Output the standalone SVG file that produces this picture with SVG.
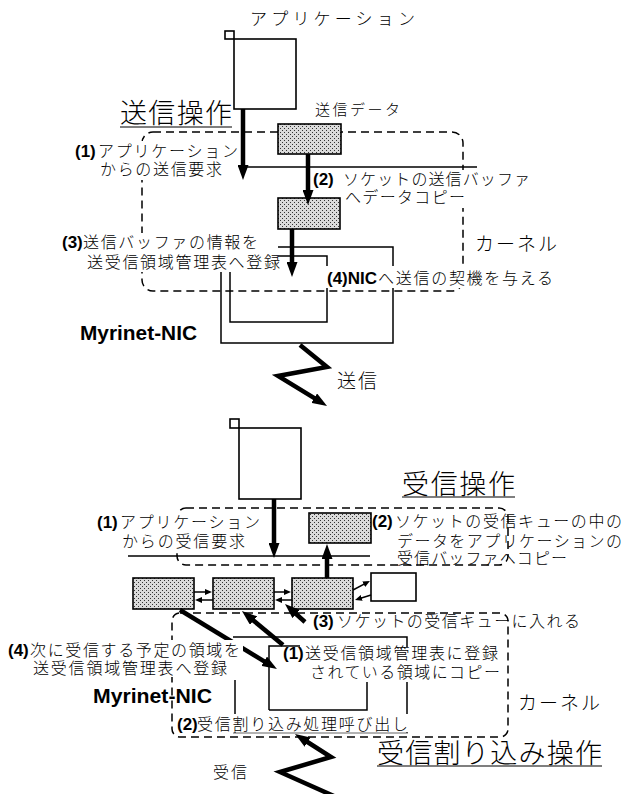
<svg xmlns="http://www.w3.org/2000/svg" width="627" height="794" viewBox="0 0 627 794">
<style>
.jp{font-family:"Noto Sans CJK JP","Noto Sans CJK SC",sans-serif;font-weight:300;fill:#000}
.b{font-family:"Liberation Sans",Arial,sans-serif;font-weight:bold;fill:#000}
.box{fill:#fff;stroke:#000;stroke-width:1.6}
.dot{fill:url(#stip);stroke:#000;stroke-width:1.6}
.dash{fill:none;stroke:#000;stroke-width:1.5;stroke-dasharray:8,5}
.ln{fill:none;stroke:#000;stroke-width:1.5}
.thick{fill:none;stroke:#000;stroke-width:4.5;stroke-linejoin:miter}
.sm{fill:none;stroke:#000;stroke-width:1.5}
.bg{fill:#fff}
</style>
<defs>
<pattern id="stip" width="4" height="4" patternUnits="userSpaceOnUse">
<rect width="4" height="4" fill="#dadada"/>
<rect x="0" y="0" width="1" height="1" fill="#333"/>
<rect x="2" y="2" width="1" height="1" fill="#333"/>
</pattern>
<marker id="ah" markerUnits="userSpaceOnUse" markerWidth="15" markerHeight="11" refX="3" refY="5.5" orient="auto">
<path d="M0,0 L15,5.5 L0,11 z" fill="#000"/>
</marker>
<marker id="as" markerUnits="userSpaceOnUse" markerWidth="7" markerHeight="6" refX="2" refY="3" orient="auto">
<path d="M0,0 L7,3 L0,6 z" fill="#000"/>
</marker>
</defs>
<rect width="627" height="794" fill="#fff"/>

<!-- boundaries -->
<g id="kernel-send">
<rect class="dash" x="142" y="132" width="321" height="159" rx="11"/>
</g>
<g id="user-recv">
<rect class="dash" x="177" y="508" width="331" height="57" rx="9"/>
</g>
<g id="kernel-recv">
<rect class="dash" x="172" y="613" width="336" height="124" rx="8"/>
</g>

<!-- nodes -->
<g id="app-send">
<rect class="box" x="225" y="31" width="9" height="8"/>
<rect class="box" x="234" y="39" width="62" height="70"/>
</g>
<g id="data-send">
<rect class="dot" x="278" y="124" width="63" height="30"/>
</g>
<g id="sockbuf-send">
<rect class="dot" x="278" y="198" width="62" height="31"/>
</g>
<g id="nic-send">
<path class="ln" d="M221,343 V247 H393 V343 Z"/>
<path class="ln" d="M230,322 V256 H327 V322 Z"/>
</g>
<g id="app-recv">
<rect class="box" x="230" y="419" width="9" height="9"/>
<rect class="box" x="239" y="428" width="62" height="71"/>
</g>
<g id="appbuf-recv">
<rect class="dot" x="309" y="513" width="62" height="30"/>
</g>
<g id="queue1"><rect class="dot" x="133" y="578" width="61" height="31"/></g>
<g id="queue2"><rect class="dot" x="213" y="578" width="61" height="31"/></g>
<g id="queue3"><rect class="dot" x="292" y="578" width="61" height="31"/></g>
<g id="queue-new"><rect class="box" x="371" y="573" width="45" height="28"/></g>
<g id="nic-recv">
<path class="ln" d="M233,637 H407 V733"/>
<path class="ln" d="M235,680 V733"/>
<path d="M233,733 H408" fill="none" stroke="#666" stroke-width="1"/>
<path class="ln" d="M269,710 V646 H300 M269,710 H367 V646"/>
</g>

<!-- connectors -->
<g id="connectors">
<line class="ln" x1="243" y1="167" x2="477" y2="167"/>
<line class="ln" x1="128" y1="556" x2="370" y2="556"/>
<line class="thick" x1="243" y1="109" x2="243" y2="168" marker-end="url(#ah)"/>
<line class="thick" x1="308" y1="154" x2="308" y2="193" marker-end="url(#ah)"/>
<line class="thick" x1="292" y1="229" x2="292" y2="265" marker-end="url(#ah)"/>
<polyline class="thick" points="300,345 327,367 278,376 316.8,399.7" marker-end="url(#ah)"/>
<line class="thick" x1="274" y1="499" x2="274" y2="546" marker-end="url(#ah)"/>
<line class="thick" x1="327" y1="578" x2="327" y2="556" marker-end="url(#ah)"/>
<line class="thick" x1="180" y1="610" x2="266.7" y2="662.8" marker-end="url(#ah)"/>
<line class="thick" x1="283" y1="645" x2="251.2" y2="618.7" marker-end="url(#ah)"/>
<line class="thick" x1="305" y1="622" x2="293.9" y2="612" marker-end="url(#ah)"/>
<polyline class="thick" points="345,801 280,772 331,757 305.1,740.5" marker-end="url(#ah)"/>
<line class="sm" x1="194" y1="592" x2="207" y2="592" marker-end="url(#as)"/>
<line class="sm" x1="213" y1="600" x2="200" y2="600" marker-end="url(#as)"/>
<line class="sm" x1="274" y1="592" x2="286" y2="592" marker-end="url(#as)"/>
<line class="sm" x1="292" y1="600" x2="280" y2="600" marker-end="url(#as)"/>
<line class="sm" x1="353" y1="590" x2="365.5" y2="583.3" marker-end="url(#as)"/>
<line class="sm" x1="371" y1="595" x2="359.8" y2="598.5" marker-end="url(#as)"/>
</g>

<!-- text backgrounds -->
<g id="label-bg">
<rect class="bg" x="74" y="141" width="162" height="39"/>
<rect class="bg" x="60" y="233" width="218" height="39"/>
<rect class="bg" x="312" y="170" width="220" height="19"/>
<rect class="bg" x="343" y="189" width="124" height="19"/>
<rect class="bg" x="326" y="266" width="229" height="22"/>
<rect class="bg" x="95" y="512" width="167" height="39"/>
<rect class="bg" x="6" y="640" width="237" height="37"/>
<rect class="bg" x="283" y="647" width="219" height="35"/>
<rect class="bg" x="176" y="714" width="234" height="18"/>
</g>

<!-- labels -->
<g id="labels-send" font-size="16">
<text class="jp" x="250" y="25" font-size="17" textLength="165" lengthAdjust="spacing">アプリケーション</text>
<text class="jp" x="120" y="123" font-size="27" textLength="112" lengthAdjust="spacing">送信操作</text>
<line x1="120" y1="127" x2="232" y2="127" stroke="#000" stroke-width="1.2"/>
<text class="jp" x="315" y="115" font-size="15" textLength="85" lengthAdjust="spacing">送信データ</text>
<text class="b" x="75" y="157" font-size="17">(1)</text>
<text class="jp" x="98" y="157" textLength="140" lengthAdjust="spacing">アプリケーション</text>
<text class="jp" x="100" y="175" textLength="122" lengthAdjust="spacing">からの送信要求</text>
<text class="b" x="313" y="185" font-size="17">(2)</text>
<text class="jp" x="343" y="185" textLength="187" lengthAdjust="spacing">ソケットの送信バッファ</text>
<text class="jp" x="345" y="203" textLength="120" lengthAdjust="spacing">へデータコピー</text>
<text class="b" x="62" y="248" font-size="17">(3)</text>
<text class="jp" x="83" y="248" textLength="175" lengthAdjust="spacing">送信バッファの情報を</text>
<text class="jp" x="87" y="268" textLength="193" lengthAdjust="spacing">送受信領域管理表へ登録</text>
<text class="b" x="327" y="284" font-size="17">(4)NIC</text>
<text class="jp" x="378" y="284" textLength="175" lengthAdjust="spacing">へ送信の契機を与える</text>
<text class="jp" x="475" y="251" font-size="19" textLength="82" lengthAdjust="spacing">カーネル</text>
<text class="b" x="80" y="340" font-size="20" textLength="117" lengthAdjust="spacingAndGlyphs">Myrinet-NIC</text>
<text class="jp" x="337" y="388" font-size="19" textLength="40" lengthAdjust="spacing">送信</text>
</g>
<g id="labels-recv" font-size="16">
<text class="jp" x="402" y="494" font-size="27" textLength="113" lengthAdjust="spacing">受信操作</text>
<line x1="402" y1="497" x2="515" y2="497" stroke="#000" stroke-width="1.2"/>
<text class="b" x="97" y="528" font-size="17">(1)</text>
<text class="jp" x="120" y="528" textLength="140" lengthAdjust="spacing">アプリケーション</text>
<text class="jp" x="122" y="547" textLength="123" lengthAdjust="spacing">からの受信要求</text>
<text class="b" x="372" y="527" font-size="17">(2)</text>
<text class="jp" x="395" y="527" textLength="227" lengthAdjust="spacing">ソケットの受信キューの中の</text>
<text class="jp" x="397" y="547" textLength="225" lengthAdjust="spacing">データをアプリケーションの</text>
<text class="jp" x="397" y="564" textLength="170" lengthAdjust="spacing">受信バッファへコピー</text>
<text class="b" x="313" y="627" font-size="17">(3)</text>
<text class="jp" x="337" y="627" textLength="243" lengthAdjust="spacing">ソケットの受信キューに入れる</text>
<text class="b" x="283" y="659" font-size="17">(1)</text>
<text class="jp" x="305" y="659" textLength="193" lengthAdjust="spacing">送受信領域管理表に登録</text>
<text class="jp" x="310" y="678" textLength="190" lengthAdjust="spacing">されている領域にコピー</text>
<text class="b" x="8" y="656" font-size="17">(4)</text>
<text class="jp" x="30" y="656" textLength="210" lengthAdjust="spacing">次に受信する予定の領域を</text>
<text class="jp" x="33" y="674" textLength="194" lengthAdjust="spacing">送受信領域管理表へ登録</text>
<text class="b" x="93" y="703" font-size="20" textLength="119" lengthAdjust="spacingAndGlyphs">Myrinet-NIC</text>
<text class="b" x="177" y="730" font-size="17">(2)</text>
<text class="jp" x="197" y="730" textLength="211" lengthAdjust="spacing">受信割り込み処理呼び出し</text>
<text class="jp" x="518" y="710" font-size="19" textLength="82" lengthAdjust="spacing">カーネル</text>
<text class="jp" x="377" y="763" font-size="27" textLength="225" lengthAdjust="spacing">受信割り込み操作</text>
<line x1="377" y1="766" x2="602" y2="766" stroke="#000" stroke-width="1.2"/>
<text class="jp" x="213" y="778" textLength="34" lengthAdjust="spacing">受信</text>
</g>
</svg>
